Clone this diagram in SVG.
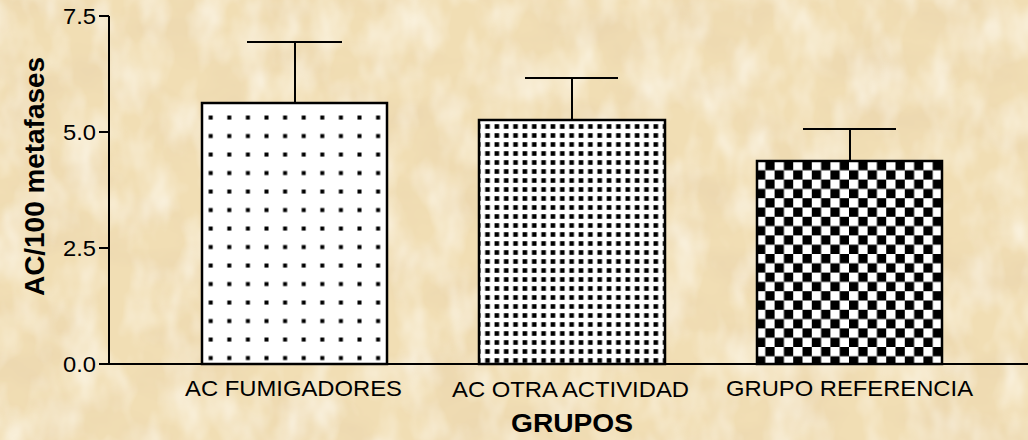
<svg xmlns="http://www.w3.org/2000/svg" width="1028" height="440" viewBox="0 0 1028 440">
  <style>
    .ax { stroke: #000; stroke-width: 2; fill: none; }
    .bar { stroke: #000; stroke-width: 2.5; }
    .err { stroke: #000; stroke-width: 2; fill: none; }
    .tick { font-family: "Liberation Sans", Arial, sans-serif; font-size: 22px; fill: #000; text-anchor: end; }
    .lbl { font-family: "Liberation Sans", Arial, sans-serif; font-size: 22px; fill: #000; text-anchor: middle; }
    .ttl { font-family: "Liberation Sans", Arial, sans-serif; font-weight: bold; fill: #000; text-anchor: middle; }
  </style>
  <defs>
    <filter id="paper" x="0" y="0" width="1028" height="440" filterUnits="userSpaceOnUse">
      <feTurbulence type="fractalNoise" baseFrequency="0.012 0.02" numOctaves="4" seed="7" result="n"/>
      <feColorMatrix in="n" type="matrix" values="0 0 0 0 0.82  0 0 0 0 0.66  0 0 0 0 0.42  1.5 0 0 0 -0.62"/>
    </filter>
    <filter id="light" x="0" y="0" width="1028" height="440" filterUnits="userSpaceOnUse">
      <feTurbulence type="fractalNoise" baseFrequency="0.03 0.018" numOctaves="3" seed="21" result="n"/>
      <feColorMatrix in="n" type="matrix" values="0 0 0 0 0.99  0 0 0 0 0.96  0 0 0 0 0.88  1.4 0 0 0 -0.55"/>
    </filter>
    <pattern id="dots1" patternUnits="userSpaceOnUse" x="201.4" y="108.25" width="18.6" height="18.5">
      <rect width="18.6" height="18.5" fill="#fff"/>
      <rect x="7.3" y="7.3" width="4" height="4" fill="#000"/>
    </pattern>
    <pattern id="dots2" patternUnits="userSpaceOnUse" x="482.8" y="122" width="9.35" height="9">
      <rect width="9.35" height="9" fill="#fff"/>
      <rect x="2.4" y="2.2" width="4.6" height="4.6" fill="#000"/>
    </pattern>
    <pattern id="checker" patternUnits="userSpaceOnUse" x="756" y="161" width="18.6" height="18.6">
      <rect width="18.6" height="18.6" fill="#fff"/>
      <rect x="9.3" y="0" width="9.3" height="9.3" fill="#000"/>
      <rect x="0" y="9.3" width="9.3" height="9.3" fill="#000"/>
    </pattern>
  </defs>

  <g id="background">
    <rect x="0" y="0" width="1028" height="440" fill="#f1deb4"/>
    <rect x="0" y="0" width="1028" height="440" filter="url(#paper)"/>
    <rect x="0" y="0" width="1028" height="440" filter="url(#light)"/>
  </g>

  <g id="bar-fumigadores">
    <rect class="bar" x="202" y="103" width="185" height="261" fill="url(#dots1)"/>
  </g>
  <g id="bar-otra-actividad">
    <rect class="bar" x="479" y="120" width="186" height="244" fill="url(#dots2)"/>
  </g>
  <g id="bar-grupo-referencia">
    <rect class="bar" x="757" y="161" width="185" height="203" fill="url(#checker)"/>
  </g>

  <g id="connectors">
    <path class="err" d="M295 103 V42 M247 42 H342"/>
    <path class="err" d="M572 120 V78 M525 78 H618"/>
    <path class="err" d="M850 161 V129 M803 129 H896"/>
  </g>

  <g id="axes">
    <path class="ax" d="M109 16 V364 H1028"/>
    <path class="ax" d="M99 16 H109 M99 132 H109 M99 248 H109 M99 364 H109"/>
    <text class="tick" x="96" y="24" textLength="33" lengthAdjust="spacingAndGlyphs">7.5</text>
    <text class="tick" x="96" y="140" textLength="33" lengthAdjust="spacingAndGlyphs">5.0</text>
    <text class="tick" x="96" y="256" textLength="33" lengthAdjust="spacingAndGlyphs">2.5</text>
    <text class="tick" x="96" y="372" textLength="33" lengthAdjust="spacingAndGlyphs">0.0</text>
  </g>

  <g id="labels">
    <text class="lbl" x="293.5" y="396" textLength="217" lengthAdjust="spacingAndGlyphs">AC FUMIGADORES</text>
    <text class="lbl" x="570.5" y="397" textLength="237" lengthAdjust="spacingAndGlyphs">AC OTRA ACTIVIDAD</text>
    <text class="lbl" x="849.5" y="396" textLength="247" lengthAdjust="spacingAndGlyphs">GRUPO REFERENCIA</text>
    <text class="ttl" x="572" y="432" font-size="26.5" textLength="122" lengthAdjust="spacingAndGlyphs">GRUPOS</text>
    <text class="ttl" transform="translate(43.5 176.5) rotate(-90)" x="0" y="0" font-size="28" textLength="239" lengthAdjust="spacingAndGlyphs">AC/100 metafases</text>
  </g>
</svg>
